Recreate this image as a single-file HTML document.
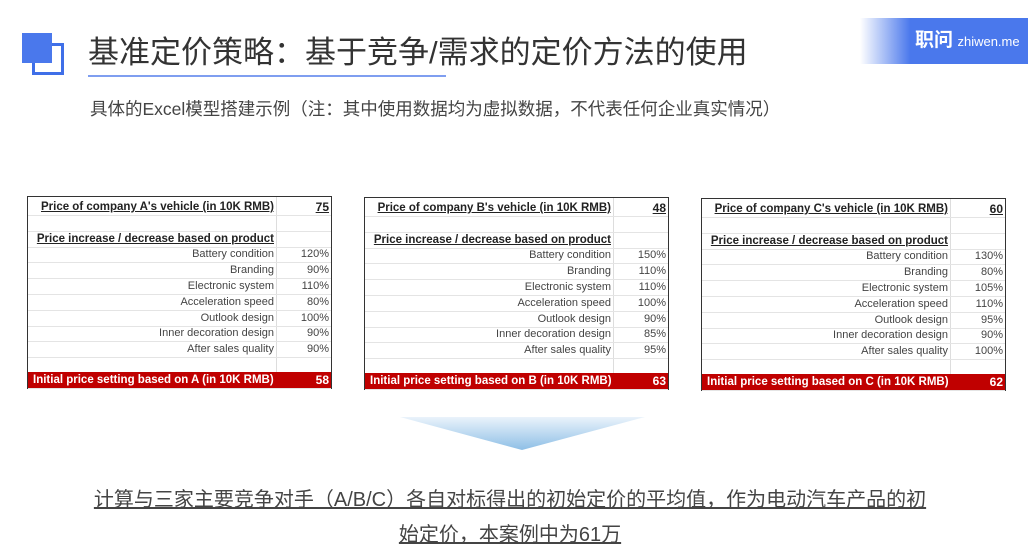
<!DOCTYPE html>
<html><head><meta charset="utf-8">
<style>
body{margin:0;width:1028px;height:560px;overflow:hidden;background:#fff;font-family:"Liberation Sans","Noto Sans CJK SC",sans-serif;position:relative}
.abs{position:absolute}
.tbl{position:absolute;border:1.5px solid #333;background:#fff}
.row{position:absolute;left:0;right:0;height:16px;border-bottom:1px solid #e4e4e4;font-size:11px;color:#444;line-height:16px}
.lab{position:absolute;left:0;text-align:right;white-space:nowrap}
.val{position:absolute;right:2px;text-align:right}
.vline{position:absolute;top:0;bottom:0;width:1px;background:#ddd}
.b{font-weight:bold;text-decoration:underline;color:#222}
.red{background:#c00000;color:#fff;font-weight:bold}
</style></head><body>
<div class="abs" style="left:32px;top:43px;width:32px;height:32px;border:3px solid #3f6fe8;box-sizing:border-box;"></div>
<div class="abs" style="left:22px;top:33px;width:30px;height:30px;background:#4a78ec"></div>
<div class="abs" style="left:88px;top:27px;font-size:31px;color:#333;white-space:nowrap">基准定价策略：基于竞争/需求的定价方法的使用</div>
<div class="abs" style="left:88px;top:75px;width:358px;height:2px;background:#7f9ef0"></div>
<div class="abs" style="left:860px;top:18px;width:168px;height:46px;background:linear-gradient(90deg,rgba(74,120,236,0) 0%,#4a78ec 30%,#4a78ec 100%);color:#fff;line-height:46px;padding-left:55px;box-sizing:border-box;white-space:nowrap"><b style="font-size:19px">职问</b> <span style="font-size:13px">zhiwen.me</span></div>
<div class="abs" style="left:90px;top:96px;font-size:17.5px;color:#444;white-space:nowrap">具体的Excel模型搭建示例（注：其中使用数据均为虚拟数据，不代表任何企业真实情况）</div>
<div id="tables"></div>
<svg class="abs" style="left:400px;top:415px" width="245" height="40">
<defs><linearGradient id="g" x1="0" y1="0" x2="0" y2="1"><stop offset="0" stop-color="#eaf3fb"/><stop offset="1" stop-color="#8ebfe6"/></linearGradient></defs>
<polygon points="0,2 245,2 122,35" fill="url(#g)"/></svg>
<div class="abs" style="left:60px;top:483px;width:900px;text-align:center;font-size:20px;line-height:35px;color:#444;text-decoration:underline;white-space:nowrap">计算与三家主要竞争对手（A/B/C）各自对标得出的初始定价的平均值，作为电动汽车产品的初<br>始定价，本案例中为61万</div>
<script>
const companies=["A","B","C"];
const basePrices=[75,48,60];
const factors=["Battery condition","Branding","Electronic system","Acceleration speed","Outlook design","Inner decoration design","After sales quality"];
const pctA=[120,90,110,80,100,90,90];
const pctB=[150,110,110,100,90,85,95];
const pctC=[130,80,105,110,95,90,100];
const initPrices=[58,63,62];
const pcts=[pctA,pctB,pctC];
const lefts=[27,364,701],tops=[196,197,198],W=303,LW=248;
const host=document.getElementById('tables');
companies.forEach((c,i)=>{
 const t=document.createElement('div');t.className='tbl';
 
 
 t.style.left=lefts[i]+'px';t.style.top=tops[i]+'px';t.style.width=W+'px';t.style.height='191px';
 const vl=document.createElement('div');vl.className='vline';vl.style.left=LW+'px';t.appendChild(vl);
 const rows=[];
 rows.push({l:"Price of company "+c+"'s vehicle (in 10K RMB)",v:basePrices[i],cls:'b'});
 rows.push({l:'',v:''});
 rows.push({l:'Price increase / decrease based on product',v:'',cls:'b'});
 factors.forEach((f,k)=>rows.push({l:f,v:pcts[i][k]+'%'}));
 rows.push({l:'',v:''});
 rows.push({l:'Initial price setting based on '+c+' (in 10K RMB)',v:initPrices[i],cls:'red'});
 rows.forEach((r,k)=>{
  const d=document.createElement('div');d.className='row'+(r.cls==='red'?' red':'');
  
  
  d.style.top=(k*15.8+(k==11?1:2))+'px';
  const l=document.createElement('span');l.className='lab'+(r.cls==='b'?' b':'');
  l.textContent=r.l;
  if(r.cls==='red'){l.style.left='5px';}
  else{l.style.right=(W-LW+2)+'px';l.style.left='auto';}
  if(r.cls==='b'||r.cls==='red')l.style.fontSize='11.5px';
  const v=document.createElement('span');v.className='val'+(r.cls==='b'?' b':'');v.textContent=r.v;
  if(r.cls==='b'||r.cls==='red')v.style.fontSize='12px';
  d.appendChild(l);d.appendChild(v);t.appendChild(d);
 });
 host.appendChild(t);
});
</script>
</body></html>
